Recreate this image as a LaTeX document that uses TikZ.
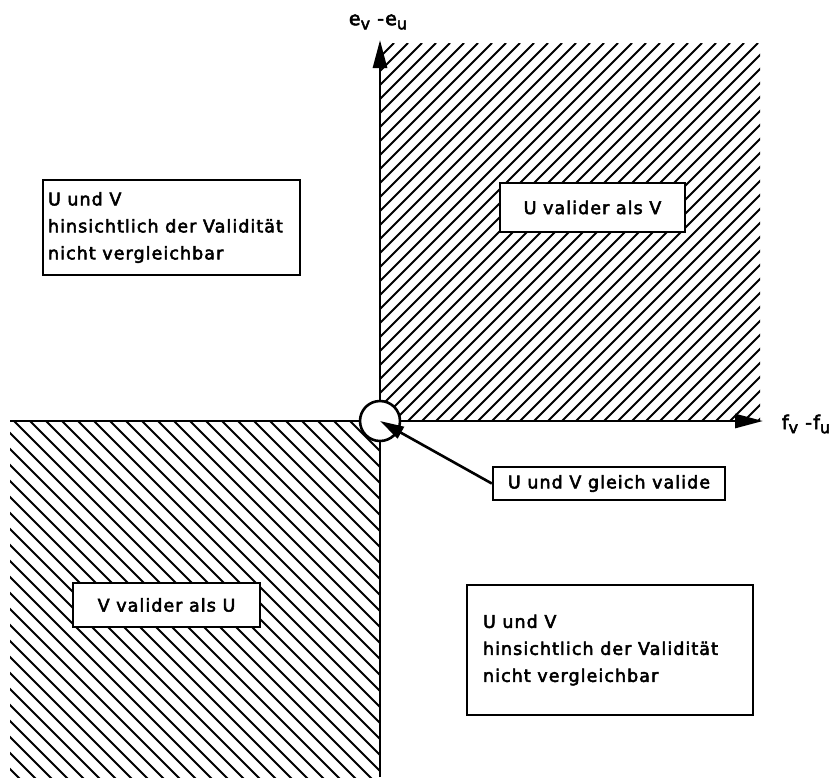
\documentclass[tikz,border=0pt]{standalone}
\usepackage{fontspec}
\setmainfont[LetterSpace=6,FakeBold=3]{DejaVu Sans}
\usetikzlibrary{arrows.meta}
\newcommand\lowsub[1]{\raisebox{-0.4ex}{\fontsize{16}{16}\selectfont #1}}
\begin{document}
\begin{tikzpicture}[x=1pt,y=-1pt,
  txt/.style={font=\fontsize{17.5}{27}\selectfont},
  axlabel/.style={font=\fontsize{19}{19}\selectfont,inner sep=0pt},
  onebox/.style={txt,draw,line width=2.4pt,fill=white,inner sep=0pt,align=center},
  multibox/.style={txt,draw,line width=2.4pt,fill=white,inner ysep=0pt,align=flush left},
  hatchline/.style={line width=2pt},
  axis/.style={line width=2.8pt,-{Triangle[length=28pt,width=14pt]}},
  pointer/.style={line width=2.6pt,-{Triangle[length=24pt,width=13pt]}}]
\useasboundingbox (0,0) rectangle (834,777);
% hatching upper right
\begin{scope}
  \clip (380,43) rectangle (760,421);
  \foreach \i in {0,14,...,770} {\draw[hatchline] (380+\i,43) -- ++(-420,420);}
\end{scope}
% hatching lower left
\begin{scope}
  \clip (10,421) rectangle (380,777);
  \foreach \i in {-370,-354,...,380} {\draw[hatchline] (\i,421) -- ++(420,420);}
\end{scope}
\coordinate (O) at (380,421);
\coordinate (ybot) at (380,777);
\coordinate (ytop) at (380,40);
\coordinate (xleft) at (10,421);
\coordinate (xright) at (763,421);
\draw[axis] (ybot) -- (ytop);
\draw[axis] (xleft) -- (xright);
\node[draw,circle,line width=2.6pt,fill=white,minimum size=40pt,inner sep=0pt] (circ) at (O) {};
\node[axlabel] (ylab) at (378,22) {e\lowsub{v} -e\lowsub{u}};
\node[axlabel] (xlab) at (806,424) {f\lowsub{v} -f\lowsub{u}};
\node[multibox,text width=247pt,inner xsep=5pt,minimum height=95pt] (ul) at (171.5,227.5) {U und V\\hinsichtlich der Validität\\nicht vergleichbar};
\node[multibox,text width=254pt,inner xsep=16pt,minimum height=130pt] (lr) at (610,650) {U und V\\hinsichtlich der Validität\\nicht vergleichbar};
\node[onebox,minimum width=185pt,minimum height=49pt] (uv) at (592.5,207.5) {U valider als V};
\node[onebox,minimum width=187pt,minimum height=44pt] (vu) at (166.5,605) {V valider als U};
\node[onebox,minimum width=232pt,minimum height=33pt] (gl) at (609,483.5) {U und V gleich valide};
\draw[pointer] (gl.west) -- (O);
\end{tikzpicture}
\end{document}
